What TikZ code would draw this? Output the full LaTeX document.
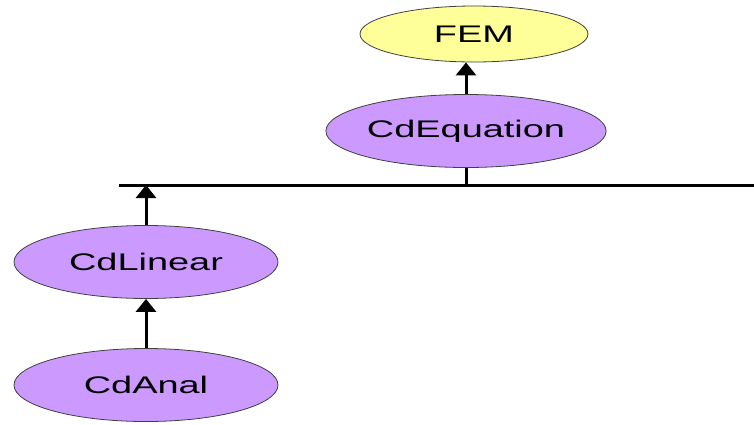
\documentclass[tikz,border=0pt]{standalone}
\usepackage{fontspec}
\setmainfont{Liberation Sans}
\usetikzlibrary{shapes.geometric,arrows.meta}
\definecolor{lav}{HTML}{CC99FF}
\definecolor{pale}{HTML}{FFFF99}
\newcommand\widetxt[1]{\scalebox{1.58}[1]{#1}}
\begin{document}
\begin{tikzpicture}[x=1pt,y=-1pt,
  cls/.style={ellipse, draw=black!75, line width=0.8pt, fill=lav, inner sep=0pt,
    minimum width=264pt, minimum height=73pt, font=\fontsize{24}{28}\selectfont},
  fembox/.style={cls, fill=pale, minimum width=228pt, minimum height=56pt},
  conn/.style={line width=3pt, -{Triangle[width=20pt,length=13pt]}},
  plainline/.style={line width=3pt}]
\useasboundingbox (0,0) rectangle (754,424);
\node[fembox] (fem) at (474,34) {\widetxt{FEM}};
\node[cls] (eq) at (466,131) {\widetxt{CdEquation}};
\node[cls] (lin) at (146,262) {\widetxt{CdLinear}};
\node[cls] (anal) at (146,385) {\widetxt{CdAnal}};
\coordinate (hl) at (119,185);
\coordinate (hr) at (754,185);
\draw[plainline] (hl) -- (hr);
\draw[conn] (eq.north) -- (eq.north |- fem.south);
\draw[plainline] (eq.south) -- (eq.south |- hl);
\draw[conn] (lin.north) -- (lin.north |- hl);
\draw[conn] (anal.north) -- (lin.south);
\end{tikzpicture}
\end{document}
